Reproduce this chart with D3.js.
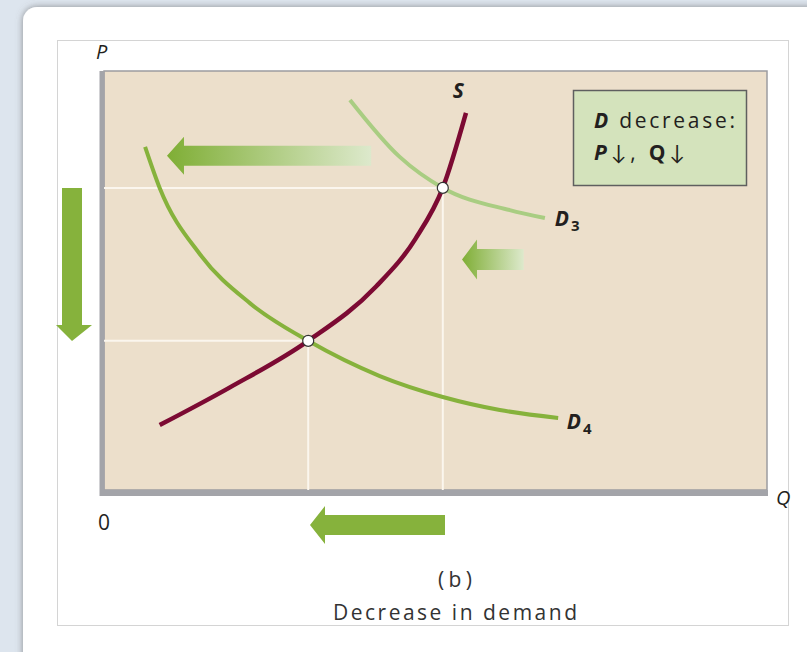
<!DOCTYPE html>
<html>
<head>
<meta charset="utf-8">
<script src="https://cdn.jsdelivr.net/npm/d3@7"></script>
<style>
  body { margin: 0; background: #dde5ee; }
  svg { display: block; }
</style>
</head>
<body>
<div id="chart"></div>
<script>
// curves, in (Q, P) units on a 0-10 grid
var supplyS = [
  {q: 0.84, p: 1.55}, {q: 1.90, p: 2.45}, {q: 3.08, p: 3.56}, {q: 4.10, p: 4.85},
  {q: 4.70, p: 6.00}, {q: 5.11, p: 7.21}, {q: 5.46, p: 9.00}
];
var demandD3 = [
  {q: 3.71, p: 9.31}, {q: 4.46, p: 7.95}, {q: 5.11, p: 7.21},
  {q: 6.12, p: 6.68}, {q: 6.65, p: 6.49}
];
var demandD4 = [
  {q: 0.62, p: 8.19}, {q: 0.84, p: 7.21}, {q: 1.45, p: 5.62}, {q: 2.20, p: 4.46},
  {q: 3.08, p: 3.56}, {q: 4.16, p: 2.72}, {q: 5.11, p: 2.22}, {q: 5.97, p: 1.91},
  {q: 6.85, p: 1.72}
];
var equilibria = [{q: 3.08, p: 3.56}, {q: 5.11, p: 7.21}];
var curveLabels = [
  {name: "S", sub: "", q: 5.26, p: 9.35},
  {name: "D", sub: "3", q: 6.80, p: 6.30},
  {name: "D", sub: "4", q: 6.98, p: 1.45}
];
var boxLines = [["D", " decrease:"], ["P", "\u2193, "], ["Q", "\u2193"]];
var caption = ["(b)", "Decrease in demand"];

const W = 807, H = 652;
const plot = {left: 104, right: 767, top: 71, bottom: 490};

const svg = d3.select("#chart").append("svg")
  .attr("width", W).attr("height", H);

const defs = svg.append("defs");
const sh = defs.append("filter").attr("id", "shadow")
  .attr("x", "-5%").attr("y", "-5%").attr("width", "110%").attr("height", "110%");
sh.append("feDropShadow").attr("dx", 0).attr("dy", 0).attr("stdDeviation", 3.5)
  .attr("flood-color", "#666").attr("flood-opacity", 0.7);

const grad = defs.append("linearGradient").attr("id", "fade")
  .attr("x1", "0%").attr("x2", "100%").attr("y1", "0%").attr("y2", "0%");
grad.append("stop").attr("offset", "0%").attr("stop-color", "#7fae35");
grad.append("stop").attr("offset", "100%").attr("stop-color", "#dde9cc");

// white card
svg.append("rect")
  .attr("x", 23).attr("y", 7).attr("width", 820).attr("height", 680)
  .attr("rx", 14).attr("fill", "#ffffff").attr("filter", "url(#shadow)");

// figure frame
svg.append("rect")
  .attr("x", 57.5).attr("y", 40.5).attr("width", 731).attr("height", 585)
  .attr("fill", "none").attr("stroke", "#d4d4d4").attr("stroke-width", 1);

const x = d3.scaleLinear().domain([0, 10]).range([plot.left, plot.right]);
const y = d3.scaleLinear().domain([0, 10]).range([plot.bottom, plot.top]);

// plot panel
svg.append("rect")
  .attr("x", plot.left).attr("y", plot.top)
  .attr("width", plot.right - plot.left).attr("height", plot.bottom - plot.top)
  .attr("fill", "#ecdfcb").attr("stroke", "#9c9ca0").attr("stroke-width", 1.5);

// axes
svg.append("line").attr("x1", x(0) - 2).attr("x2", x(0) - 2)
  .attr("y1", plot.top).attr("y2", plot.bottom + 6)
  .attr("stroke", "#a3a4a9").attr("stroke-width", 5);
svg.append("line").attr("x1", x(0) - 4).attr("x2", plot.right + 1)
  .attr("y1", plot.bottom + 3).attr("y2", plot.bottom + 3)
  .attr("stroke", "#a3a4a9").attr("stroke-width", 6);

// guide lines to the axes
const guides = svg.append("g").attr("stroke", "#fbf6ee").attr("stroke-width", 2);
equilibria.forEach(function(d) {
  guides.append("line").attr("x1", x(0)).attr("x2", x(d.q))
    .attr("y1", y(d.p)).attr("y2", y(d.p));
  guides.append("line").attr("x1", x(d.q)).attr("x2", x(d.q))
    .attr("y1", y(d.p)).attr("y2", y(0));
});

// shift arrows
function arrowLeft(x0, x1, yc, shaft, head, headLen, fill) {
  const pts = [
    [x0, yc], [x0 + headLen, yc - head / 2], [x0 + headLen, yc - shaft / 2],
    [x1, yc - shaft / 2], [x1, yc + shaft / 2], [x0 + headLen, yc + shaft / 2],
    [x0 + headLen, yc + head / 2]
  ];
  svg.append("path").attr("d", "M" + pts.join("L") + "Z").attr("fill", fill);
}
arrowLeft(x(0.95), x(4.03), y(7.98), 20, 38, 17, "url(#fade)");
arrowLeft(x(5.40), x(6.33), y(5.50), 21, 40, 15, "url(#fade)");
arrowLeft(310, 445, 525, 20, 38, 15, "#86b23c");
// price arrow (down)
svg.append("path")
  .attr("d", "M62,188L82,188L82,325L92,325L72,341L56,325L62,325Z")
  .attr("fill", "#86b23c");

// curves
const line = d3.line().x(d => x(d.q)).y(d => y(d.p)).curve(d3.curveMonotoneX);
svg.append("path").datum(demandD3).attr("d", line)
  .attr("fill", "none").attr("stroke", "#a9cd82").attr("stroke-width", 4);
svg.append("path").datum(demandD4).attr("d", line)
  .attr("fill", "none").attr("stroke", "#86b23c").attr("stroke-width", 4);
svg.append("path").datum(supplyS).attr("d", line)
  .attr("fill", "none").attr("stroke", "#7c0a33").attr("stroke-width", 4.5);

svg.selectAll("circle.eq").data(equilibria).join("circle")
  .attr("class", "eq")
  .attr("cx", d => x(d.q)).attr("cy", d => y(d.p)).attr("r", 5.5)
  .attr("fill", "#ffffff").attr("stroke", "#333").attr("stroke-width", 1.2);

// curve labels
const font = "'Open Sans', Lato, sans-serif";
curveLabels.forEach(function(d) {
  const t = svg.append("text").attr("x", x(d.q)).attr("y", y(d.p))
    .attr("font-family", font).attr("font-weight", 700).attr("font-style", "italic")
    .attr("font-size", 21).attr("fill", "#231f20").text(d.name);
  if (d.sub) t.append("tspan").attr("font-size", 15).attr("font-style", "normal")
    .attr("dx", 2).attr("dy", 5).text(d.sub);
});

// axis labels
svg.append("text").attr("x", 96).attr("y", 59).attr("font-family", font)
  .attr("font-style", "italic").attr("font-size", 20).attr("fill", "#231f20").text("P");
svg.append("text").attr("x", 776).attr("y", 505).attr("font-family", font)
  .attr("font-style", "italic").attr("font-size", 20).attr("fill", "#231f20").text("Q");
svg.append("text").attr("x", 98).attr("y", 530).attr("font-family", font)
  .attr("font-size", 21).attr("fill", "#231f20").text("0");

// note box
svg.append("rect").attr("x", 573.5).attr("y", 90.5).attr("width", 173).attr("height", 95)
  .attr("fill", "#d4e3bc").attr("stroke", "#5f5f5f").attr("stroke-width", 1.5);
const t1 = svg.append("text").attr("x", 594).attr("y", 128)
  .attr("font-family", font).attr("font-size", 21).attr("fill", "#231f20")
  .attr("textLength", 141).attr("lengthAdjust", "spacing");
t1.append("tspan").attr("font-weight", 700).attr("font-style", "italic").text(boxLines[0][0]);
t1.append("tspan").text(boxLines[0][1]);
const t2 = svg.append("text").attr("x", 594).attr("y", 160)
  .attr("font-family", font).attr("font-size", 21).attr("fill", "#231f20")
  .attr("textLength", 91).attr("lengthAdjust", "spacing");
t2.append("tspan").attr("font-weight", 700).attr("font-style", "italic").text(boxLines[1][0]);
t2.append("tspan").text(boxLines[1][1]);
t2.append("tspan").attr("font-weight", 700).text(boxLines[2][0]);
t2.append("tspan").text(boxLines[2][1]);

// caption
svg.selectAll("text.cap").data(caption).join("text")
  .attr("class", "cap")
  .attr("x", 455).attr("y", (d, i) => 587 + i * 33)
  .attr("text-anchor", "middle").attr("font-family", font)
  .attr("font-size", 21).attr("fill", "#333")
  .attr("textLength", (d, i) => i ? 244 : 34).attr("lengthAdjust", "spacing")
  .text(d => d);
</script>
</body>
</html>
